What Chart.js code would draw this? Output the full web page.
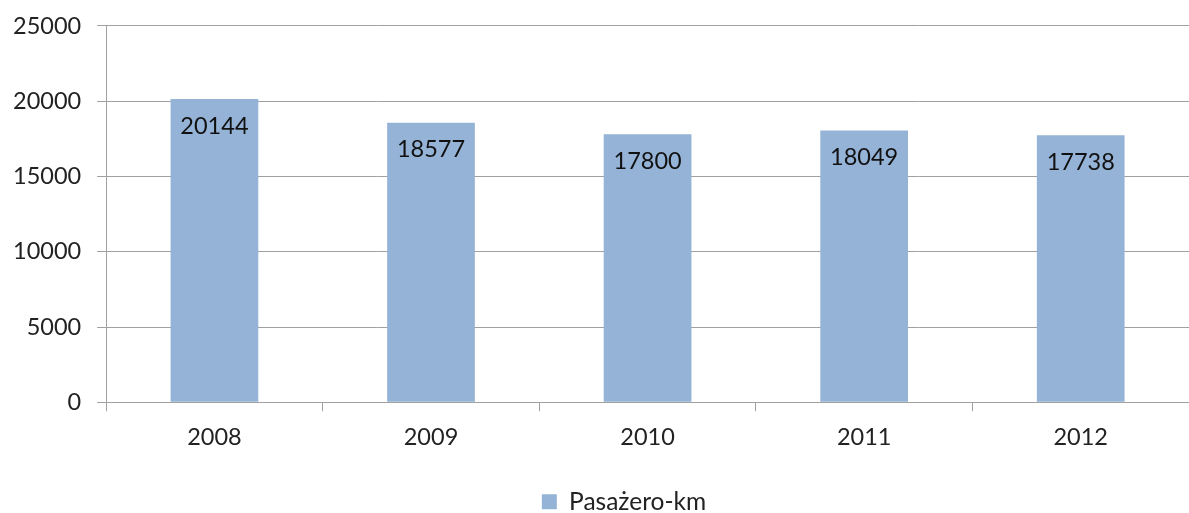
<!DOCTYPE html>
<html>
<head>
<meta charset="utf-8">
<script src="https://cdn.jsdelivr.net/npm/chart.js@4"></script>
<style>
  html, body { margin: 0; padding: 0; background: #fff; }
  #wrap { width: 1189px; height: 513px; }
</style>
</head>
<body>
<div id="wrap"><canvas id="mycanvas" width="1189" height="513"></canvas></div>
<script>
var years = ["2008", "2009", "2010", "2011", "2012"];
var pasazeroKm = [20144, 18577, 17800, 18049, 17738];
var yTicks = [0, 5000, 10000, 15000, 20000, 25000];

// labels drawn inside the top of each bar
var barLabels = {
    id: "barLabels",
    afterLayout: function(chart) {
        // legend sits a bit right of centre in the original
        chart.legend.left += 62;
    },
    afterDatasetsDraw: function(chart) {
        var ctx = chart.ctx;
        var meta = chart.getDatasetMeta(0);
        ctx.save();
        ctx.font = "23.5px Lato";
        ctx.fillStyle = "#111";
        ctx.textAlign = "center";
        ctx.textBaseline = "middle";
        meta.data.forEach(function(bar, i) {
            ctx.fillText(String(pasazeroKm[i]), bar.x, bar.y + 27);
        });
        ctx.restore();
    }
};

var ctx = document.getElementById("mycanvas");
var chart = new Chart(ctx, {
    type: "bar",
    data: {
        labels: years,
        datasets: [{
            label: "Pasażero-km",
            data: pasazeroKm,
            backgroundColor: "#95b3d7",
            borderWidth: 0,
            barPercentage: 0.405,
            categoryPercentage: 1
        }]
    },
    options: {
        responsive: false,
        animation: false,
        layout: { padding: { top: 1, right: 0, left: -3, bottom: -11 } },
        plugins: {
            legend: {
                position: "bottom",
                labels: {
                    font: { family: "Lato", size: 24.5 },
                    color: "#222",
                    boxWidth: 15,
                    boxHeight: 15,
                    padding: 7
                }
            },
            tooltip: { enabled: false }
        },
        scales: {
            x: {
                afterFit: function(axis) { axis.height += 19; },
                grid: {
                    offset: true,
                    drawOnChartArea: false,
                    drawTicks: true,
                    tickLength: 9,
                    color: "#a0a0a0"
                },
                border: { color: "#a0a0a0" },
                ticks: {
                    font: { family: "Lato", size: 23.5 },
                    color: "#222",
                    padding: 12
                }
            },
            y: {
                min: 0,
                max: 25000,
                afterBuildTicks: function(axis) {
                    axis.ticks = yTicks.map(function(v) { return { value: v }; });
                },
                grid: {
                    color: "#a0a0a0",
                    tickLength: 9
                },
                border: { color: "#a0a0a0" },
                ticks: {
                    font: { family: "Lato", size: 23.5, lineHeight: 0.85 },
                    color: "#222",
                    padding: 16,
                    callback: function(v) { return String(v); }
                }
            }
        }
    },
    plugins: [barLabels]
});
</script>
</body>
</html>
